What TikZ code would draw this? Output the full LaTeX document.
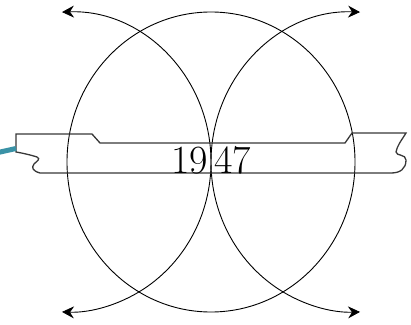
\documentclass[tikz,border=0pt]{standalone}
\usetikzlibrary{positioning,arrows.meta,calc}
\definecolor{thread}{RGB}{58,146,166}

\begin{document}
\begin{tikzpicture}[
    x=1pt, y=1pt,
    ring/.style={draw=black, line width=0.9pt},
    swing/.style={ring, {Stealth[length=12pt,width=12pt,inset=4pt]}-{Stealth[length=12pt,width=12pt,inset=4pt]}},
    strip/.style={draw=black!78, line width=1.3pt, line join=miter},
    year/.style={inner sep=0pt, font=\fontsize{40}{40}\selectfont},
    >=Stealth
]
\useasboundingbox (0,0) rectangle (411,324);
\coordinate (cl) at (67,162);
\coordinate (cm) at (211,162);
\coordinate (cr) at (355,162);

% circle and the two swinging arcs
\draw[ring] (cm) ellipse [x radius=144, y radius=150];
\draw[swing] (cl) ++(92:144 and 150) arc[start angle=92, end angle=-92, x radius=144, y radius=150];
\draw[swing] (cr) ++(88:144 and 150) arc[start angle=88, end angle=272, x radius=144, y radius=150];

% torn strip
\coordinate (tear) at (16,175.5);
\draw[strip] (16,190) -- (92,190) -- (100,181) -- (345,181) -- (352,191) -- (406,191)
    .. controls (401,183) and (397,178) .. (396,172)
    .. controls (396,168) and (406,170) .. (406,164)
    .. controls (406,155) and (400,151) .. (391,151)
    -- (40,151)
    .. controls (33,153) and (31,156) .. (34,160)
    .. controls (37,163) and (41,165) .. (37,167)
    .. controls (31,169) and (22,171) .. (16,172) -- cycle;
\draw[thread, line width=5pt] (tear) -- ++(-18,-4);

\node[year, anchor=base east] (yl) at (208,151) {19};
\node[year, anchor=base west] (yr) at (214,151) {47};
\end{tikzpicture}
\end{document}
